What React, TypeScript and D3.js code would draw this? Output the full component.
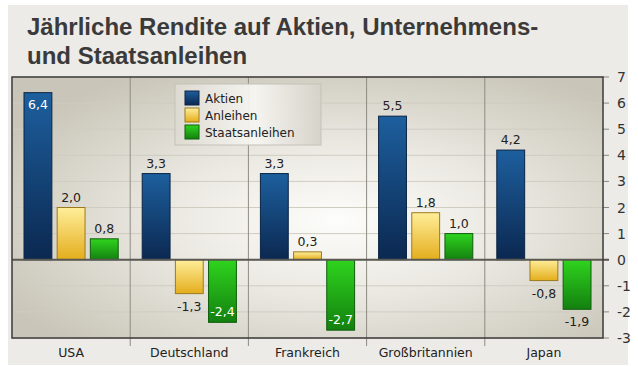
import React from 'react';
import * as d3 from 'd3';

const categories = ['USA', 'Deutschland', 'Frankreich', 'Großbritannien', 'Japan'];
const seriesNames = ['Aktien', 'Anleihen', 'Staatsanleihen'];
const aktien = [6.4, 3.3, 3.3, 5.5, 4.2];
const anleihen = [2.0, -1.3, 0.3, 1.8, -0.8];
const staatsanleihen = [0.8, -2.4, -2.7, 1.0, -1.9];
const yTicks = [-3, -2, -1, 0, 1, 2, 3, 4, 5, 6, 7];

const seriesValues = [aktien, anleihen, staatsanleihen];
// gradient stops (top, bottom) and outline per series
const seriesStyle = [
  { top: '#1d5f9e', bottom: '#0b2850', stroke: '#0a2444' },
  { top: '#ffee9a', bottom: '#e4ad1c', stroke: '#9c7a1e' },
  { top: '#2fd41e', bottom: '#13800f', stroke: '#0f5e0c' },
];

const W = 638;
const H = 366;
const plot = { left: 12, right: 603, top: 77, bottom: 338 };
const font = '"DejaVu Sans", Verdana, sans-serif';
const titleFont = '"Liberation Sans", Arial, sans-serif';
const fmt = (v: number) => v.toFixed(1).replace('.', ',');

const App: React.FC = () => {
  const x = d3.scaleBand<string>().domain(categories).range([plot.left, plot.right]);
  const inner = d3.scaleBand<string>().domain(seriesNames).range([12, x.bandwidth() - 12]).paddingInner(0.16);
  const y = d3.scaleLinear().domain([-3, 7]).range([plot.bottom, plot.top]);
  const y0 = y(0);

  return (
    <svg width={W} height={H} style={{ position: 'absolute', left: 0, top: 0 }}>
      <defs>
        <radialGradient id="plotBg" cx="55%" cy="55%" r="65%">
          <stop offset="0" stopColor="#fdfdfb" />
          <stop offset="0.45" stopColor="#eae8e1" />
          <stop offset="1" stopColor="#c9c5b8" />
        </radialGradient>
        <linearGradient id="legBg" x1="0" y1="0" x2="1" y2="0">
          <stop offset="0" stopColor="#dedbd2" />
          <stop offset="0.55" stopColor="#f7f6f2" />
          <stop offset="1" stopColor="#d6d3c9" />
        </linearGradient>
        {seriesStyle.map((s, i) => (
          <linearGradient key={i} id={`bar${i}`} x1="0" y1="0" x2="0" y2="1">
            <stop offset="0" stopColor={s.top} />
            <stop offset="1" stopColor={s.bottom} />
          </linearGradient>
        ))}
      </defs>

      <rect x={0} y={0} width={W} height={H} fill="#ffffff" />
      <rect x={8} y={5} width={620} height={360} fill="#ecebe7" />

      <text x={27} y={35} fontFamily={titleFont} fontWeight="bold" fontSize={24} fill="#3a3a3a">
        Jährliche Rendite auf Aktien, Unternehmens-
      </text>
      <text x={27} y={64} fontFamily={titleFont} fontWeight="bold" fontSize={24} fill="#3a3a3a">
        und Staatsanleihen
      </text>

      <rect x={plot.left} y={plot.top} width={plot.right - plot.left} height={plot.bottom - plot.top} fill="url(#plotBg)" />

      {/* grid lines and right axis ticks */}
      {yTicks.map(t => (
        <g key={t}>
          <line x1={plot.left} x2={plot.right} y1={y(t)} y2={y(t)} stroke="#cfccc2" strokeWidth={1} />
          <line x1={plot.right} x2={plot.right + 6} y1={y(t)} y2={y(t)} stroke="#8a877e" strokeWidth={1} />
          <text x={617} y={y(t) + 5} fontFamily={font} fontSize={14} fill="#333">{t}</text>
        </g>
      ))}

      {/* category separators */}
      {categories.slice(1).map(c => (
        <line key={c} x1={x(c)!} x2={x(c)!} y1={plot.top} y2={plot.bottom + 8} stroke="#8e8b82" strokeWidth={1} />
      ))}

      {/* bars */}
      {categories.map((c, ci) =>
        seriesNames.map((s, si) => {
          const v = seriesValues[si][ci];
          const bx = x(c)! + inner(s)!;
          const bw = inner.bandwidth();
          const top = Math.min(y(v), y0);
          const h = Math.abs(y(v) - y0);
          let ly: number;
          let inside = false;
          if (v >= 0) {
            ly = y(v) - 6;
            if (ly - 14 < plot.top) { inside = true; ly = y(v) + 16; }
          } else {
            ly = y(v) + 17;
            if (ly + 3 > plot.bottom) { inside = true; ly = y(v) - 6; }
          }
          return (
            <g key={c + s}>
              <rect x={bx} y={top} width={bw} height={h} fill={`url(#bar${si})`} stroke={seriesStyle[si].stroke} strokeWidth={1} />
              <text x={bx + bw / 2} y={ly} textAnchor="middle" fontFamily={font} fontSize={12.5} fill={inside ? '#ffffff' : '#222'}>
                {fmt(v)}
              </text>
            </g>
          );
        })
      )}

      {/* zero line */}
      <line x1={plot.left} x2={plot.right + 6} y1={y0} y2={y0} stroke="#5a5852" strokeWidth={2} />

      {/* plot border */}
      <rect x={plot.left} y={plot.top} width={plot.right - plot.left} height={plot.bottom - plot.top} fill="none" stroke="#3a3a3a" strokeWidth={1.5} />

      {/* category labels */}
      {categories.map(c => (
        <text key={c} x={x(c)! + x.bandwidth() / 2} y={357} textAnchor="middle" fontFamily={font} fontSize={12.5} fill="#222">
          {c}
        </text>
      ))}

      {/* legend */}
      <g>
        <rect x={175} y={84} width={146} height={61} fill="url(#legBg)" stroke="#c4c1b7" strokeWidth={1} opacity={0.95} />
        {seriesNames.map((s, i) => (
          <g key={s}>
            <rect x={185} y={91 + i * 17} width={14} height={14} fill={`url(#bar${i})`} stroke={seriesStyle[i].stroke} strokeWidth={1} />
            <text x={205} y={103 + i * 17} fontFamily={font} fontSize={12} fill="#222">{s}</text>
          </g>
        ))}
      </g>
    </svg>
  );
};

export default App;
